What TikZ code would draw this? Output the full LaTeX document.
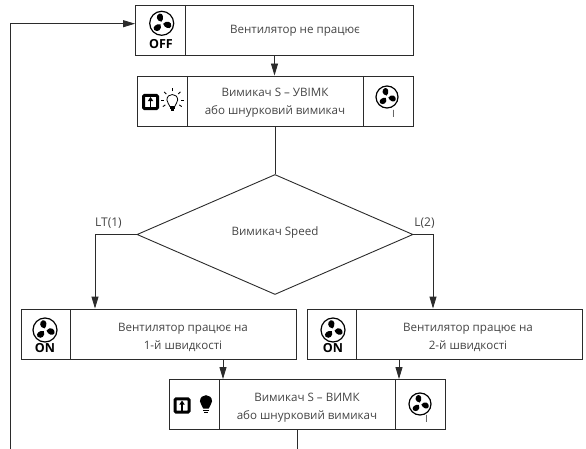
\documentclass[tikz,border=0pt]{standalone}
\usepackage{fontspec}
\setmainfont{Open Sans}
\usetikzlibrary{shapes.geometric,arrows.meta}
\definecolor{ink}{HTML}{2B2B2B}
\definecolor{txt}{HTML}{444444}
\tikzset{
  x=1pt,y=-1pt,
  every node/.style={font=\fontsize{11.6}{17.8}\selectfont,text=txt},
  frame/.style={draw=ink,line width=0.9pt,rectangle,inner sep=0pt,minimum height=50pt},
  cell/.style={draw=ink,line width=0.9pt},
  lbl/.style={align=center,inner sep=0pt},
  conn/.style={draw=ink,line width=0.9pt},
  arr/.style={conn,-{Triangle[length=12pt,width=7pt]}},
  tag/.style={inner sep=0pt,font=\fontsize{12}{13}\selectfont},
  state/.style={inner sep=0pt,text=black,font=\fontsize{12.5}{13}\selectfont\bfseries},
  pics/fan/.style={code={
    \draw[black,line width=1.2pt] (0,0) circle[radius=#1];
    \foreach \a in {100,220,340}{
      \fill[black,rotate=\a,scale=#1/12] (1.6,0) .. controls (3,-5.2) and (9.4,-4.8) .. (10,-0.4)
        .. controls (10,3.4) and (4,3.4) .. (1.6,0) -- cycle;
    }
  }},
  pics/switchicon/.style={code={
    \draw[black,line width=3pt,rounded corners=1.2pt,fill=white] (-7,-6.6) rectangle (7,6.6);
    \draw[black,line width=1.2pt] (0,6.6) -- (0,-2);
    \fill[black] (-2.8,-0.8) -- (0,-5) -- (2.8,-0.8) -- cycle;
  }},
  pics/bulb/.style={code={
    \path[#1] (-5.4,-1.5) .. controls (-5.4,-8.8) and (5.4,-8.8) .. (5.4,-1.5)
      .. controls (5.4,1.5) and (2.8,2.5) .. (2.4,5) -- (-2.4,5) .. controls (-2.8,2.5) and (-5.4,1.5) .. (-5.4,-1.5) -- cycle;
    \fill[black] (-2.5,6) rectangle (2.5,7.5);
    \fill[black] (-1.5,8) rectangle (1.5,9.3);
  }},
  pics/rays/.style={code={
    \foreach \a in {0,-45,-90,-135,180,35,145}{
      \draw[black,line width=0.9pt,shift={(0,-1.5)},rotate=\a] (-8.5,0) -- (-11.5,0);
    }
  }}
}
\begin{document}
\begin{tikzpicture}
\useasboundingbox (0,0) rectangle (586,449);

% boxes
\node[frame,minimum width=278pt] (b1) at (274.5,30) {};
\node[frame,minimum width=276pt] (b2) at (275,101) {};
\node[frame,minimum width=275pt] (b3) at (158.5,334) {};
\node[frame,minimum width=275pt] (b4) at (444.5,334) {};
\node[frame,minimum width=276pt] (b5) at (307,404.5) {};
\node[draw=ink,line width=0.9pt,diamond,minimum width=276pt,minimum height=120pt,inner sep=0pt,aspect=2.3] (d) at (275,234.5) {};

% cell dividers
\draw[cell] (185,5) -- (185,55);
\draw[cell] (187,76) -- (187,126);
\draw[cell] (363,76) -- (363,126);
\draw[cell] (70,309) -- (70,359);
\draw[cell] (356,309) -- (356,359);
\draw[cell] (219,380) -- (219,429);
\draw[cell] (395,380) -- (395,429);

% texts
\node[lbl] (t1) at (295,31) {Вентилятор не працює};
\node[lbl] (t2) at (275,103) {Вимикач S – УВІМК\\або шнурковий вимикач};
\node[lbl] (t3) at (275,232) {Вимикач Speed};
\node[lbl] (t4) at (183,337.5) {Вентилятор працює на\\1-й швидкості};
\node[lbl] (t5) at (468,337.5) {Вентилятор працює на\\2-й швидкості};
\node[lbl] (t6) at (307,407.5) {Вимикач S – ВИМК\\або шнурковий вимикач};
\node[tag] (lt) at (108.5,223) {LT(1)};
\node[tag] (lr) at (424.5,223) {L(2)};

% icons
\pic at (161.7,23.3) {fan=12};
\node[state] (off) at (161,44) {OFF};
\pic at (45,330) {fan=12};
\node[state] (on1) at (45,348.5) {ON};
\pic at (333,330) {fan=12};
\node[state] (on2) at (333,348.5) {ON};
\pic at (387,97) {fan=11};
\node[inner sep=0pt,font=\fontsize{10}{11}\selectfont] (i1) at (393.5,114) {I};
\pic at (420,404) {fan=11};
\node[inner sep=0pt,font=\fontsize{10}{11}\selectfont] (i2) at (426.5,419) {I};
\pic at (150.5,102) {switchicon};
\pic at (172.3,101.5) {bulb={draw=black,line width=0.8pt}};
\pic at (172.3,101.5) {rays};
\pic at (182,405.5) {switchicon};
\pic[scale=1.12] at (206,403) {bulb={fill=black}};

% connectors
\coordinate (lb) at (10.3,449);
\coordinate (ltop) at (10.3,23.7);
\coordinate (dl) at (95,234.5);
\coordinate (dr) at (433,234.5);
\coordinate (x3) at (223,359);
\coordinate (x4) at (399,359);
\coordinate (x5) at (297,429);
\coordinate (bend) at (297,449);
\draw[arr] (lb) -- (ltop) -- (ltop -| b1.west);
\draw[arr] (b1.south) -- (b1.south |- b2.north);
\draw[conn] (b2.south) -- (d.north);
\draw[arr] (d.west) -- (dl) -- (dl |- b3.north);
\draw[arr] (d.east) -- (dr) -- (dr |- b4.north);
\draw[arr] (x3) -- (x3 |- b5.north);
\draw[arr] (x4) -- (x4 |- b5.north);
\draw[conn] (x5) -- (bend);
\end{tikzpicture}
\end{document}
